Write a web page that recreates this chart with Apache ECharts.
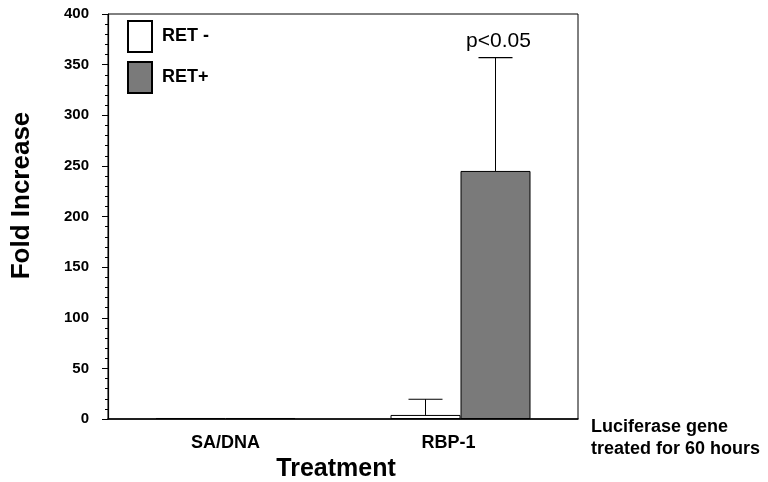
<!DOCTYPE html>
<html>
<head>
<meta charset="utf-8">
<script src="https://cdn.jsdelivr.net/npm/echarts@6/dist/echarts.min.js"></script>
<style>html,body{margin:0;padding:0;background:#fff;}#c{width:768px;height:482px;}</style>
</head>
<body>
<div id="c"></div>
<script>
const categories = ['SA/DNA', 'RBP-1'];
const seriesNames = ['RET -', 'RET+'];
const retMinus = [1, 4];
const retPlus = [1, 245];
const retMinusErrTop = [null, 19.5];
const retPlusErrTop = [null, 357];
const retPlusNotes = ['', 'p<0.05'];
const yMin = 0, yMax = 400, yStep = 50;

const FONT = '"Liberation Sans", Arial, Helvetica, sans-serif';
const BAR_W = 70;
const GRAY = '#7a7a7a';

function errorSeries(name, tops, offsetSign, notes) {
  const data = tops.map((t, i) => [i, t]);
  return {
    type: 'custom',
    name: name + ' err',
    z: 5,
    silent: true,
    data: data.filter(d => d[1] != null),
    renderItem: function (params, api) {
      const idx = api.value(0);
      const top = api.value(1);
      const base = offsetSign < 0 ? retMinus[idx] : retPlus[idx];
      const pTop = api.coord([idx, top]);
      const pBase = api.coord([idx, base]);
      const x = pTop[0] + offsetSign * BAR_W / 2;
      const capHalf = 17;
      const children = [
        { type: 'line', shape: { x1: x, y1: pBase[1], x2: x, y2: pTop[1] }, style: { stroke: '#000', lineWidth: 1 } },
        { type: 'line', shape: { x1: x - capHalf, y1: pTop[1], x2: x + capHalf, y2: pTop[1] }, style: { stroke: '#000', lineWidth: 1.2 } }
      ];
      const note = notes ? notes[idx] : '';
      if (note) {
        children.push({ type: 'text', style: { text: note, x: x + 3, y: pTop[1] - 6, align: 'center', verticalAlign: 'bottom', font: '21px ' + FONT, fill: '#000' } });
      }
      return { type: 'group', children: children };
    }
  };
}

const chart = echarts.init(document.getElementById('c'));
chart.setOption({
  animation: false,
  backgroundColor: '#fff',
  grid: { left: 108, right: 190, top: 14, bottom: 63, containLabel: false, outerBoundsMode: 'none',
          show: true, borderColor: '#000', borderWidth: 1, backgroundColor: 'transparent' },
  legend: {
    left: 127, top: 20, orient: 'vertical', icon: 'rect', padding: 0,
    itemWidth: 24, itemHeight: 31, itemGap: 8,
    data: seriesNames,
    textStyle: { fontFamily: FONT, fontWeight: 'bold', fontSize: 18, color: '#000', padding: [3, 0, 0, 5] }
  },
  xAxis: {
    type: 'category',
    data: categories,
    axisLine: { lineStyle: { color: '#000', width: 1.5 } },
    axisTick: { show: false },
    axisLabel: {
      fontFamily: FONT, fontWeight: 'bold', fontSize: 18, color: '#000', margin: 15,
      formatter: function (v, i) { return i === 1 ? '{r|' + v + '}' : v; },
      rich: { r: { fontFamily: FONT, fontWeight: 'bold', fontSize: 18, color: '#000', padding: [0, 24, 0, 0] } }
    },
    name: 'Treatment',
    nameLocation: 'middle',
    nameGap: 38,
    nameTextStyle: { fontFamily: FONT, fontWeight: 'bold', fontSize: 25, color: '#000', padding: [0, 14, 0, 0] }
  },
  yAxis: {
    type: 'value',
    min: yMin, max: yMax, interval: yStep,
    axisLine: { show: true, lineStyle: { color: '#000', width: 1.2 } },
    axisTick: { show: true, length: 6, lineStyle: { color: '#000' } },
    minorTick: { show: true, splitNumber: 5, length: 3, lineStyle: { color: '#000' } },
    splitLine: { show: false },
    axisLabel: { fontFamily: FONT, fontWeight: 'bold', fontSize: 15, color: '#000', margin: 19 },
    name: 'Fold Increase',
    nameLocation: 'middle',
    nameGap: 73,
    nameTextStyle: { fontFamily: FONT, fontWeight: 'bold', fontSize: 26, color: '#000', padding: [0, 0, 0, 42] }
  },
  series: [
    { type: 'bar', name: seriesNames[0], data: retMinus, barWidth: BAR_W, barGap: '0%',
      itemStyle: { color: '#fff', borderColor: '#000', borderWidth: 1 } },
    { type: 'bar', name: seriesNames[1], data: retPlus, barWidth: BAR_W, barGap: '0%',
      itemStyle: { color: GRAY, borderColor: '#000', borderWidth: 1 } },
    errorSeries(seriesNames[0], retMinusErrTop, -1, null),
    errorSeries(seriesNames[1], retPlusErrTop, 1, retPlusNotes)
  ],
  graphic: [
    { type: 'text', left: 591, top: 416, style: { text: 'Luciferase gene\ntreated for 60 hours', font: 'bold 18px ' + FONT, fill: '#000', lineHeight: 22 } }
  ]
});
</script>
</body>
</html>
